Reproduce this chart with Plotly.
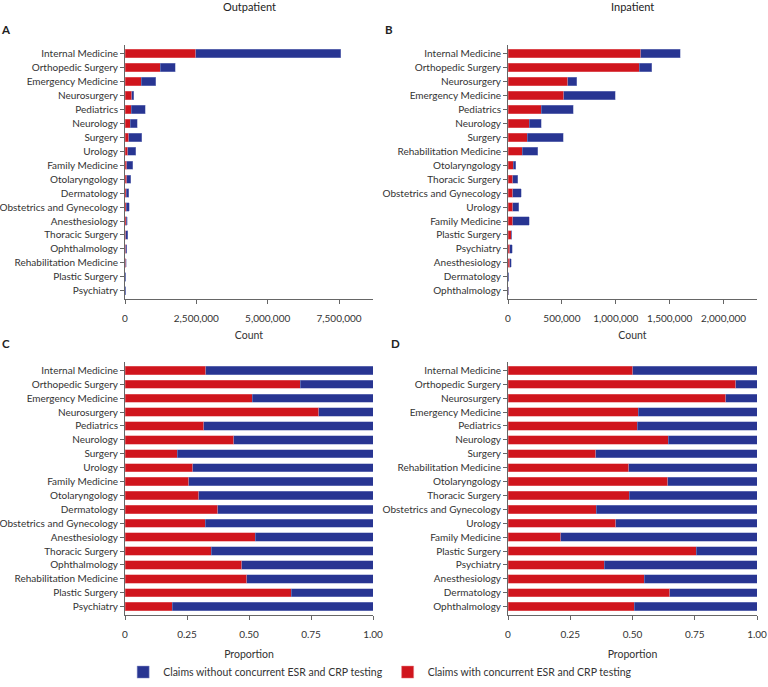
import plotly.graph_objects as go

# ---------------- data ----------------
dept_out = ["Internal Medicine", "Orthopedic Surgery", "Emergency Medicine", "Neurosurgery",
            "Pediatrics", "Neurology", "Surgery", "Urology", "Family Medicine", "Otolaryngology",
            "Dermatology", "Obstetrics and Gynecology", "Anesthesiology", "Thoracic Surgery",
            "Ophthalmology", "Rehabilitation Medicine", "Plastic Surgery", "Psychiatry"]
dept_in = ["Internal Medicine", "Orthopedic Surgery", "Neurosurgery", "Emergency Medicine",
           "Pediatrics", "Neurology", "Surgery", "Rehabilitation Medicine", "Otolaryngology",
           "Thoracic Surgery", "Obstetrics and Gynecology", "Urology", "Family Medicine",
           "Plastic Surgery", "Psychiatry", "Anesthesiology", "Dermatology", "Ophthalmology"]

out_with = [2477000, 1238000, 561000, 236000, 222000, 190000, 123000, 102000, 69000, 59000,
            48000, 45000, 37000, 32000, 27000, 23000, 16000, 5000]
out_without = [5081000, 514000, 525000, 68000, 479000, 242000, 461000, 272000, 200000, 140000,
               81000, 95000, 33000, 61000, 31000, 24000, 7000, 23000]

in_with = [1231000, 1216000, 555000, 518000, 310000, 198000, 180000, 130000, 47000, 45000,
           45000, 43000, 43000, 31000, 16000, 17000, 4000, 1500]
in_without = [369000, 117000, 81000, 477000, 295000, 109000, 332000, 146000, 24000, 45000,
              76000, 56000, 152000, 6000, 24000, 11000, 2000, 1500]

out_prop_with = [0.326, 0.706, 0.514, 0.781, 0.317, 0.439, 0.211, 0.274, 0.258, 0.298,
                 0.374, 0.323, 0.526, 0.348, 0.470, 0.491, 0.671, 0.191]
out_prop_without = [0.674, 0.294, 0.486, 0.219, 0.683, 0.561, 0.789, 0.726, 0.742, 0.702,
                    0.626, 0.677, 0.474, 0.652, 0.530, 0.509, 0.329, 0.809]
in_prop_with = [0.501, 0.914, 0.874, 0.523, 0.519, 0.643, 0.353, 0.485, 0.642, 0.487,
                0.355, 0.432, 0.212, 0.755, 0.387, 0.548, 0.650, 0.508]
in_prop_without = [0.499, 0.086, 0.126, 0.477, 0.481, 0.357, 0.647, 0.515, 0.358, 0.513,
                   0.645, 0.568, 0.788, 0.245, 0.613, 0.452, 0.350, 0.492]

name_with = "Claims with concurrent ESR and CRP testing"
name_without = "Claims without concurrent ESR and CRP testing"
RED = "#D0151D"
BLUE = "#283592"
RED_EDGE = "#E77A7E"
BLUE_EDGE = "#8A93C8"

# ---------------- figure ----------------
W, H = 768, 687
fig = go.Figure()

panels = [
    ("x", "y", dept_out, out_with, out_without, True),
    ("x2", "y2", dept_in, in_with, in_without, False),
    ("x3", "y3", dept_out, out_prop_with, out_prop_without, False),
    ("x4", "y4", dept_in, in_prop_with, in_prop_without, False),
]
for xa, ya, cats, w, wo, show in panels:
    fig.add_trace(go.Bar(y=cats, x=w, orientation="h", name=name_with, xaxis=xa, yaxis=ya,
                         marker=dict(color=RED, line=dict(color=RED_EDGE, width=0.5)),
                         showlegend=show, legendrank=2))
    fig.add_trace(go.Bar(y=cats, x=wo, orientation="h", name=name_without, xaxis=xa, yaxis=ya,
                         marker=dict(color=BLUE, line=dict(color=BLUE_EDGE, width=0.5)),
                         showlegend=show, legendrank=1))

AX = "#666666"
FONT = "Lato"
TXT = "#333333"

def px_x(a, b):
    return [a / W, b / W]

def px_y(top, bottom):
    return [1 - bottom / H, 1 - top / H]

left_dom = px_x(125, 373)
right_dom = px_x(508, 757)
top_dom = px_y(46, 303)
bot_dom = px_y(367, 623)

common_x = dict(showgrid=False, zeroline=False, showline=True, linecolor=AX, linewidth=1,
                ticks="outside", ticklen=4, tickcolor=AX, automargin=False,
                ticklabelstandoff=6,
                tickfont=dict(family=FONT, size=10, color=TXT),
                title_font=dict(family=FONT, size=10.5, color=TXT), title_standoff=8)
common_y = dict(showgrid=False, zeroline=False, showline=True, linecolor=AX, linewidth=1,
                ticks="outside", ticklen=4, tickcolor=AX, automargin=False,
                type="category", range=[17.59, -0.59],
                tickfont=dict(family=FONT, size=10, color=TXT))

prop_ticks = dict(tickvals=[0, 0.25, 0.5, 0.75, 1.0], ticktext=["0", "0.25", "0.50", "0.75", "1.00"])

fig.update_layout(
    width=W, height=H, margin=dict(l=0, r=0, t=0, b=0),
    paper_bgcolor="white", plot_bgcolor="white",
    barmode="stack", bargap=0.4,
    font=dict(family=FONT, size=10, color=TXT),
    xaxis=dict(common_x, domain=left_dom, anchor="y", range=[0, 8690000],
               tickvals=[0, 2500000, 5000000, 7500000], tickformat=",d", title_text="Count"),
    yaxis=dict(common_y, domain=top_dom, anchor="x", categoryarray=dept_out),
    xaxis2=dict(common_x, domain=right_dom, anchor="y2", range=[0, 2310000],
                tickvals=[0, 500000, 1000000, 1500000, 2000000], tickformat=",d", title_text="Count"),
    yaxis2=dict(common_y, domain=top_dom, anchor="x2", categoryarray=dept_in),
    xaxis3=dict(common_x, domain=left_dom, anchor="y3", range=[0, 1.0], title_text="Proportion",
                title_standoff=11, **prop_ticks),
    yaxis3=dict(common_y, domain=bot_dom, anchor="x3", categoryarray=dept_out),
    xaxis4=dict(common_x, domain=right_dom, anchor="y4", range=[0, 1.0], title_text="Proportion",
                title_standoff=11, **prop_ticks),
    yaxis4=dict(common_y, domain=bot_dom, anchor="x4", categoryarray=dept_in),
    legend=dict(orientation="h", x=0.495, xanchor="center", y=1 - 681 / H, yanchor="middle",
                font=dict(family=FONT, size=10.5, color=TXT), traceorder="normal",
                itemwidth=30, bgcolor="rgba(0,0,0,0)"),
)

annots = [
    dict(text="Outpatient", x=249 / W, y=1 - 7 / H, font=dict(size=11)),
    dict(text="Inpatient", x=632.5 / W, y=1 - 7 / H, font=dict(size=11)),
    dict(text="<b>A</b>", x=6 / W, y=1 - 30 / H, font=dict(size=11.5)),
    dict(text="<b>B</b>", x=389 / W, y=1 - 30 / H, font=dict(size=11.5)),
    dict(text="<b>C</b>", x=6 / W, y=1 - 348 / H, font=dict(size=11.5)),
    dict(text="<b>D</b>", x=395 / W, y=1 - 348 / H, font=dict(size=11.5)),
]
for a in annots:
    fig.add_annotation(xref="paper", yref="paper", x=a["x"], y=a["y"], text=a["text"],
                       showarrow=False, xanchor="center", yanchor="middle",
                       font=dict(family=FONT, color="#222222", size=a["font"]["size"]))

fig.write_html("out.html", config={"displayModeBar": False},
               post_script="document.body.style.margin='0px';document.body.style.overflow='hidden';")
